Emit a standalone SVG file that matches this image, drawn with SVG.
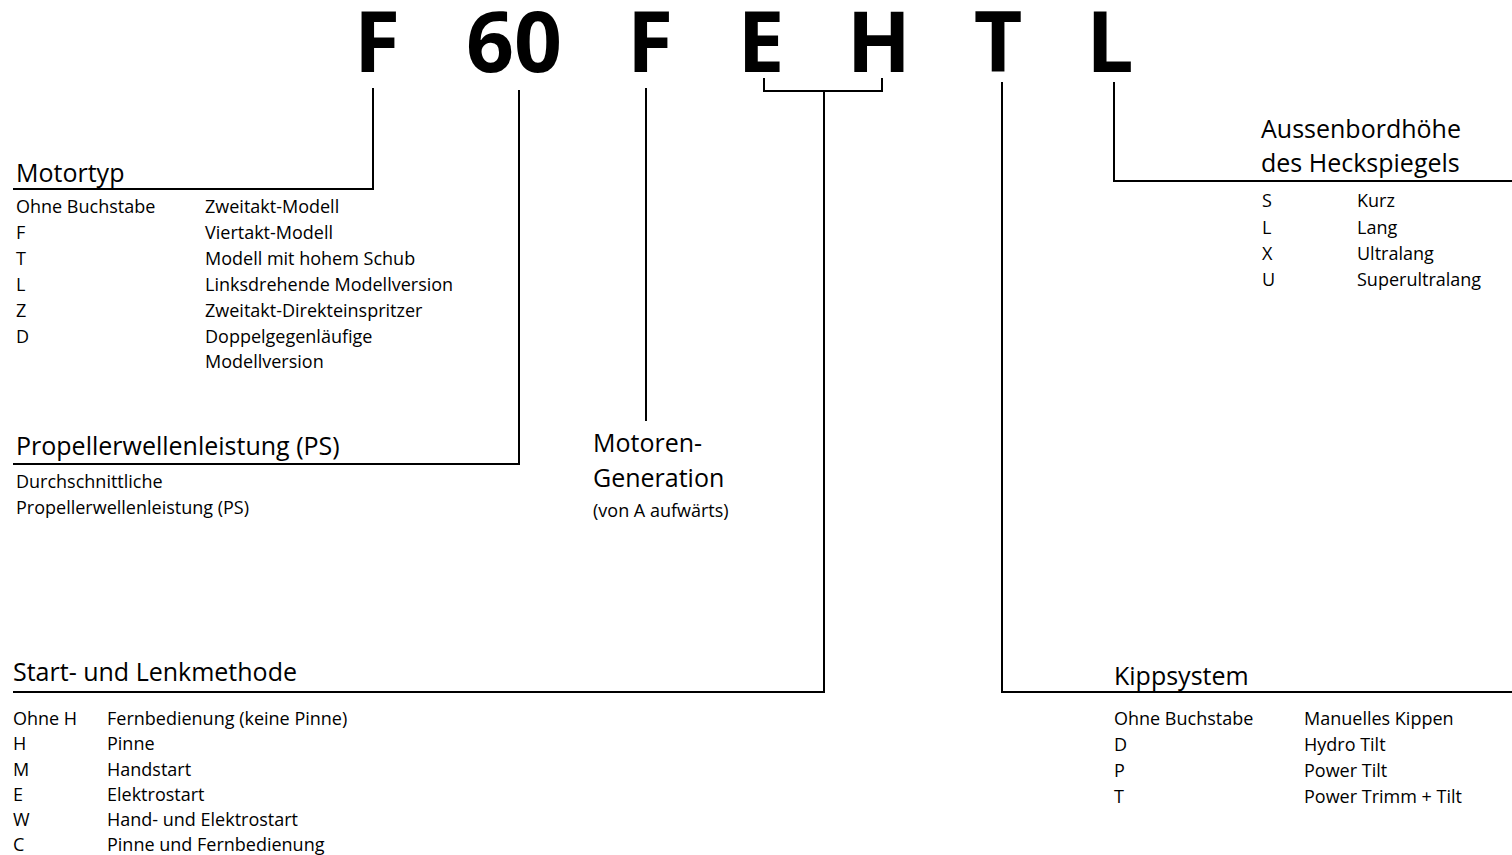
<svg xmlns="http://www.w3.org/2000/svg" width="1512" height="855" viewBox="0 0 1512 855">
<style>
.big{font-family:"Open Sans","Liberation Sans",sans-serif;font-weight:700;font-size:84px;fill:#000;text-anchor:middle}
.h{font-family:"Open Sans","Liberation Sans",sans-serif;font-size:25px;fill:#000}
.t{font-family:"Open Sans","Liberation Sans",sans-serif;font-size:18px;fill:#000}
.c{fill:none;stroke:#000;stroke-width:2}
</style>
<rect width="1512" height="855" fill="#fff"/>
<g id="code">
<text class="big" x="377" y="72">F</text>
<text class="big" x="514" y="72">60</text>
<text class="big" x="650" y="72">F</text>
<text class="big" x="761" y="72">E</text>
<text class="big" x="879" y="72">H</text>
<text class="big" x="998" y="72">T</text>
<text class="big" x="1110" y="72">L</text>
</g>
<g id="connectors">
<path class="c" d="M373 88V189H13"/>
<path class="c" d="M519 90V464H13"/>
<path class="c" d="M646 88V421"/>
<path class="c" d="M764 78V91H882V78M824 91V692H13"/>
<path class="c" d="M1002 82V692H1512"/>
<path class="c" d="M1114 82V181H1512"/>
</g>
<g id="motortyp">
<text class="h" x="16" y="182">Motortyp</text>
<text class="t" x="16" y="213">Ohne Buchstabe</text>
<text class="t" x="16" y="239">F</text>
<text class="t" x="16" y="265">T</text>
<text class="t" x="16" y="291">L</text>
<text class="t" x="16" y="317">Z</text>
<text class="t" x="16" y="343">D</text>
<text class="t" x="205" y="213">Zweitakt-Modell</text>
<text class="t" x="205" y="239">Viertakt-Modell</text>
<text class="t" x="205" y="265">Modell mit hohem Schub</text>
<text class="t" x="205" y="291">Linksdrehende Modellversion</text>
<text class="t" x="205" y="317">Zweitakt-Direkteinspritzer</text>
<text class="t" x="205" y="343">Doppelgegenläufige</text>
<text class="t" x="205" y="368">Modellversion</text>
</g>
<g id="leistung">
<text class="h" x="16" y="455">Propellerwellenleistung (PS)</text>
<text class="t" x="16" y="488">Durchschnittliche</text>
<text class="t" x="16" y="514">Propellerwellenleistung (PS)</text>
</g>
<g id="generation">
<text class="h" x="593" y="452">Motoren-</text>
<text class="h" x="593" y="487">Generation</text>
<text class="t" x="593" y="517">(von A aufwärts)</text>
</g>
<g id="start">
<text class="h" x="13" y="681">Start- und Lenkmethode</text>
<text class="t" x="13" y="725">Ohne H</text>
<text class="t" x="13" y="750">H</text>
<text class="t" x="13" y="776">M</text>
<text class="t" x="13" y="801">E</text>
<text class="t" x="13" y="826">W</text>
<text class="t" x="13" y="851">C</text>
<text class="t" x="107" y="725">Fernbedienung (keine Pinne)</text>
<text class="t" x="107" y="750">Pinne</text>
<text class="t" x="107" y="776">Handstart</text>
<text class="t" x="107" y="801">Elektrostart</text>
<text class="t" x="107" y="826">Hand- und Elektrostart</text>
<text class="t" x="107" y="851">Pinne und Fernbedienung</text>
</g>
<g id="kipp">
<text class="h" x="1114" y="685">Kippsystem</text>
<text class="t" x="1114" y="725">Ohne Buchstabe</text>
<text class="t" x="1114" y="751">D</text>
<text class="t" x="1114" y="777">P</text>
<text class="t" x="1114" y="803">T</text>
<text class="t" x="1304" y="725">Manuelles Kippen</text>
<text class="t" x="1304" y="751">Hydro Tilt</text>
<text class="t" x="1304" y="777">Power Tilt</text>
<text class="t" x="1304" y="803">Power Trimm + Tilt</text>
</g>
<g id="aussenbord">
<text class="h" x="1261" y="138">Aussenbordhöhe</text>
<text class="h" x="1261" y="172">des Heckspiegels</text>
<text class="t" x="1262" y="207">S</text>
<text class="t" x="1262" y="234">L</text>
<text class="t" x="1262" y="260">X</text>
<text class="t" x="1262" y="286">U</text>
<text class="t" x="1357" y="207">Kurz</text>
<text class="t" x="1357" y="234">Lang</text>
<text class="t" x="1357" y="260">Ultralang</text>
<text class="t" x="1357" y="286">Superultralang</text>
</g>
</svg>
